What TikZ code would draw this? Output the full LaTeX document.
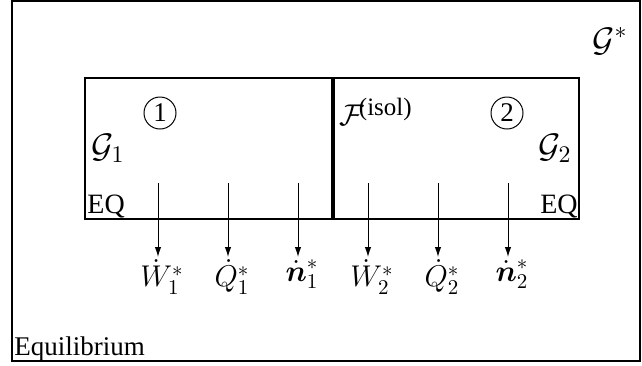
\RequirePackage{fix-cm}
\documentclass[tikz,border=0pt]{standalone}
\usepackage{amsmath,amsbsy}
\usepackage{fontspec}
\setmainfont{Liberation Serif}
\usepackage{tikz}
\usetikzlibrary{positioning,arrows.meta}
\tikzset{ %
  ,>={Latex[length=5pt,width=3.2pt]}
  ,every node/.style={font=\fontsize{13.5}{16}\selectfont}
  ,frame/.style={draw, line width=0.75pt}
  ,sysbox/.style={draw, line width=1pt}
  ,wall/.style={line width=2pt}
  ,num/.style={draw, circle, inner sep=0, minimum size=16pt, line width=0.5pt}
  ,gsys/.style={inner sep=0, font=\fontsize{17}{20}\selectfont}
  ,eq/.style={inner sep=0, font=\fontsize{14}{16}\selectfont}
  ,flux/.style={inner sep=1pt, font=\fontsize{15}{18}\selectfont}
  ,flow/.style={->, line width=0.5pt}
}

\begin{document}
\begin{tikzpicture}[x=0.5pt, y=-0.5pt]
    \useasboundingbox (0,0) rectangle (642,365);
    % surroundings and the two subsystems
    \draw[frame] (12,1) rectangle (640,361);
    \coordinate (bl) at (85,219);
    \coordinate (tr) at (579,78);
    \draw[sysbox] (bl) rectangle (tr);
    \coordinate (wtop) at (333,78);
    \coordinate (wbot) at (333,219);
    \draw[wall] (wtop) -- (wbot);
    \node[num] (one) at (160,113) {1};
    \node[num] (two) at (507,113) {2};
    \node[gsys] (G1) at (108,148) {$\mathcal{G}_1$};
    \node[gsys] (G2) at (555,148) {$\mathcal{G}_2$};
    \node[gsys] (Gstar) at (610,41) {$\mathcal{G}^*$};
    \node[eq, anchor=south west] (eq1) at (87,218) {EQ};
    \node[eq, anchor=south east] (eq2) at (578,218) {EQ};
    \node[inner sep=0, anchor=west] (F) at (339,112)
      {\fontsize{15}{18}\selectfont$\mathcal{F}$\hspace{-2.5pt}\raisebox{5pt}{\fontsize{12.5}{14}\selectfont(isol)}};
    \node[inner sep=0, anchor=base west] (state) at (14,355) {Equilibrium};
    % fluxes out of the subsystems
    \foreach \x/\lab [count=\i] in {158/{\dot W_1^*}, 228/{\dot Q_1^*},
        298/{\dot{\boldsymbol n}_1^*}, 368/{\dot W_2^*}, 438/{\dot Q_2^*},
        508/{\dot{\boldsymbol n}_2^*}}
    {
      \coordinate (src\i) at (\x,183);
      \node[flux, anchor=north] (out\i) at (\x+4,257) {$\lab$};
      \draw[flow] (src\i) -- (src\i |- out\i.north);
    }
\end{tikzpicture}
\end{document}
